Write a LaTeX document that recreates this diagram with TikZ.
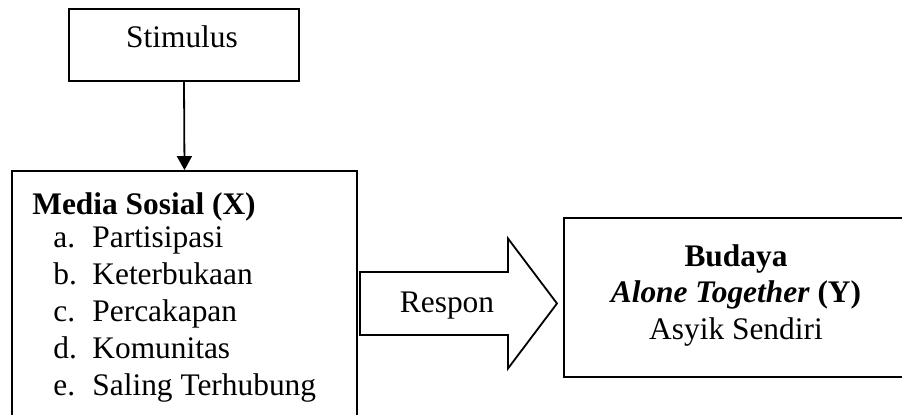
\documentclass[tikz,border=0pt]{standalone}
\usepackage{fontspec}
\setmainfont{Liberation Serif}
\usetikzlibrary{arrows.meta}
\tikzset{
  box/.style={draw, line width=0.9pt, inner sep=0pt},
  txt/.style={anchor=base, inner sep=0pt, font=\fontsize{15.7}{16}\selectfont},
  item/.style={txt, anchor=base west},
}
\begin{document}
\begin{tikzpicture}[x=0.5pt, y=-0.5pt]
\useasboundingbox (0,0) rectangle (902,415);
\clip (0,0) rectangle (902,415);
% boxes
\node (stimulus) at (184,45) [box, minimum width=115pt, minimum height=36pt] {};
\node (media) at (184.5,300.5) [box, minimum width=172.5pt, minimum height=129.5pt] {};
\node (budaya) at (736,297.5) [box, minimum width=172pt, minimum height=79.5pt] {};
% texts
\node (stimtxt) at (182,48) [txt] {Stimulus};
\node (mediatxt) at (32,215) [item] {\textbf{Media Sosial (X)}};
\node (ia) at (53,248) [item] {a.};
\node (ib) at (53,285) [item] {b.};
\node (ic) at (53,322) [item] {c.};
\node (id) at (53,359) [item] {d.};
\node (ie) at (53,396) [item] {e.};
\node (ta) at (92,248) [item] {Partisipasi};
\node (tb) at (92,285) [item] {Keterbukaan};
\node (tc) at (92,322) [item] {Percakapan};
\node (td) at (92,359) [item] {Komunitas};
\node (te) at (92,396) [item] {Saling Terhubung};
\node (bud1) at (736,267) [txt] {\textbf{Budaya}};
\node (bud2) at (736,303) [txt] {\textbf{\textit{Alone Together} (Y)}};
\node (bud3) at (736,340) [txt] {Asyik Sendiri};
\node (respon) at (447,313) [txt] {Respon};
% connectors
\draw[-{Triangle[width=7.5pt,length=7pt]}, line width=0.9pt] (stimulus.south) -- (media.north);
\draw[line width=0.9pt] (360,272) -- (508,272) -- (508,238.5) -- (557,303.5)
  -- (508,368.5) -- (508,335) -- (360,335) -- cycle;
\end{tikzpicture}
\end{document}
